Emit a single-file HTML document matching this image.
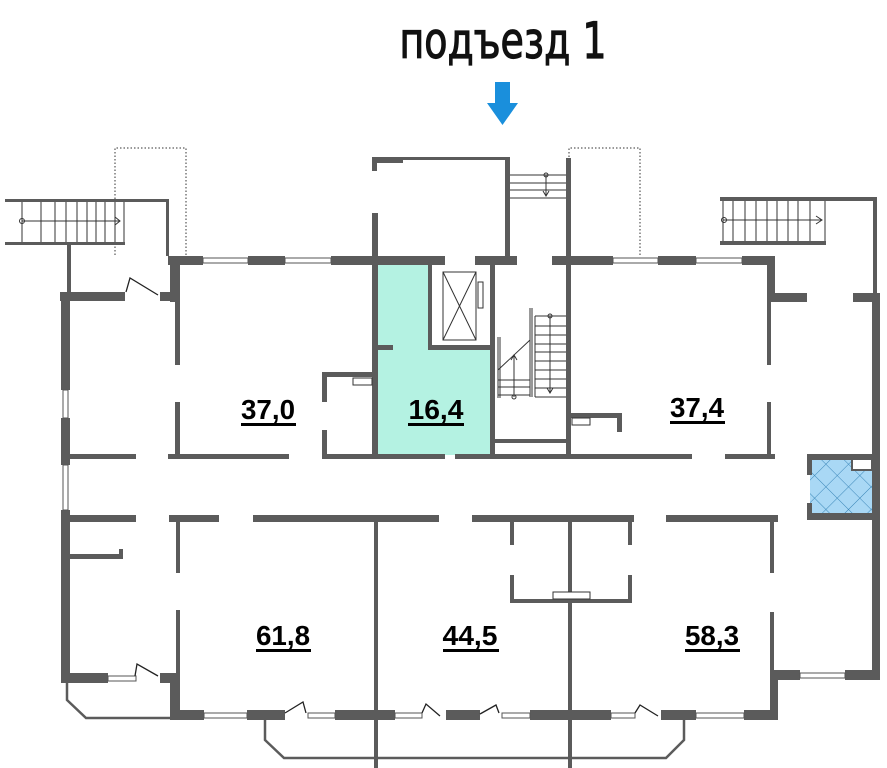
<!DOCTYPE html>
<html><head><meta charset="utf-8"><style>
html,body{margin:0;padding:0;background:#fff;}
svg{display:block;}
.w{fill:#5b5b5b;}
.t{font-family:"Liberation Sans",sans-serif;font-weight:bold;font-size:28px;fill:#000;text-anchor:middle;}
</style></head><body>
<svg width="887" height="768" viewBox="0 0 887 768" xmlns="http://www.w3.org/2000/svg">
<defs>
<pattern id="hx" width="16" height="16" patternUnits="userSpaceOnUse" patternTransform="rotate(45)">
<rect width="16" height="16" fill="#a9d8f5"/>
<path d="M0 0H16M0 0V16" stroke="#3a86b8" stroke-width="1"/>
</pattern>
</defs>
<!-- title -->
<text x="503" y="58" font-family="DejaVu Sans, sans-serif" font-size="50" font-weight="normal" text-anchor="middle" textLength="207" lengthAdjust="spacingAndGlyphs" fill="#111" stroke="#111" stroke-width="1.2">подъезд 1</text>
<!-- arrow -->
<polygon points="495,82 510,82 510,103 518,103 502.5,125 487,103 495,103" fill="#1a8fdc"/>

<!-- dotted rectangles -->
<path d="M115 255V148H186V255" fill="none" stroke="#333" stroke-width="1" stroke-dasharray="1.5,2"/>
<path d="M569 255V148H640V255" fill="none" stroke="#333" stroke-width="1" stroke-dasharray="1.5,2"/>

<!-- green room -->
<rect x="378" y="265" width="114" height="190" fill="#b4f2e2"/>
<rect x="430" y="265" width="62" height="83" fill="#fff"/>

<!-- blue tile -->
<rect x="810" y="458" width="65" height="58" fill="url(#hx)"/>
<rect x="852" y="459" width="20" height="11" fill="#fff" stroke="#5b5b5b" stroke-width="2"/>

<g class="w">
<rect x="168" y="256" width="35" height="9"/>
<rect x="248" y="256" width="37" height="9"/>
<rect x="331" y="256" width="114" height="9"/>
<rect x="475" y="256" width="42" height="9"/>
<rect x="552" y="256" width="61" height="9"/>
<rect x="658" y="256" width="38" height="9"/>
<rect x="742" y="256" width="33" height="9"/>
<rect x="767" y="256" width="8" height="46"/>
<rect x="767" y="293" width="40" height="9"/>
<rect x="853" y="293" width="24" height="9"/>
<rect x="873" y="197" width="4" height="100"/>
<rect x="872" y="293" width="8" height="387"/>
<rect x="767" y="302" width="4" height="63"/>
<rect x="767" y="402" width="4" height="55"/>
<rect x="720" y="197" width="157" height="4"/>
<rect x="720" y="241" width="106" height="4"/>
<rect x="5" y="199" width="164" height="3"/>
<rect x="166" y="199" width="3" height="57"/>
<rect x="5" y="242" width="120" height="3"/>
<rect x="67" y="245" width="4" height="50"/>
<rect x="60" y="292" width="65" height="9"/>
<rect x="160" y="292" width="15" height="9"/>
<rect x="170" y="256" width="10" height="46"/>
<rect x="175" y="300" width="5" height="65"/>
<rect x="175" y="402" width="5" height="56"/>
<rect x="61" y="292" width="9" height="98"/>
<rect x="61" y="418" width="9" height="47"/>
<rect x="61" y="510" width="9" height="173"/>
<rect x="70" y="454" width="66" height="5"/>
<rect x="168" y="454" width="121" height="5"/>
<rect x="322" y="454" width="123" height="5"/>
<rect x="455" y="454" width="237" height="5"/>
<rect x="725" y="454" width="50" height="5"/>
<rect x="372" y="157" width="31" height="6"/>
<rect x="372" y="157" width="138" height="3"/>
<rect x="372" y="157" width="5" height="14"/>
<rect x="372" y="213" width="6" height="245"/>
<rect x="505" y="157" width="5" height="100"/>
<rect x="566" y="158" width="5" height="300"/>
<rect x="428" y="265" width="4" height="85"/>
<rect x="428" y="345" width="65" height="5"/>
<rect x="490" y="265" width="5" height="190"/>
<rect x="378" y="345" width="15" height="5"/>
<rect x="495" y="439" width="72" height="4"/>
<rect x="322" y="372" width="56" height="5"/>
<rect x="322" y="372" width="5" height="30"/>
<rect x="322" y="430" width="5" height="28"/>
<rect x="571" y="413" width="51" height="5"/>
<rect x="617" y="413" width="5" height="19"/>
<rect x="807" y="454" width="70" height="6"/>
<rect x="807" y="454" width="5" height="21"/>
<rect x="807" y="503" width="5" height="17"/>
<rect x="807" y="513" width="70" height="7"/>
<rect x="68" y="515" width="68" height="7"/>
<rect x="169" y="515" width="50" height="7"/>
<rect x="253" y="515" width="186" height="7"/>
<rect x="472" y="515" width="162" height="7"/>
<rect x="666" y="515" width="112" height="7"/>
<rect x="176" y="517" width="4" height="56"/>
<rect x="176" y="610" width="4" height="110"/>
<rect x="374" y="517" width="4" height="251"/>
<rect x="568" y="517" width="4" height="251"/>
<rect x="510" y="517" width="4" height="28"/>
<rect x="510" y="575" width="4" height="28"/>
<rect x="628" y="517" width="4" height="28"/>
<rect x="628" y="575" width="4" height="28"/>
<rect x="510" y="599" width="122" height="4"/>
<rect x="770" y="517" width="4" height="56"/>
<rect x="770" y="612" width="4" height="60"/>
<rect x="70" y="554" width="52" height="5"/>
<rect x="119" y="549" width="4" height="10"/>
<rect x="61" y="673" width="47" height="10"/>
<rect x="160" y="673" width="18" height="10"/>
<rect x="170" y="673" width="9" height="47"/>
<rect x="170" y="710" width="34" height="10"/>
<rect x="247" y="710" width="38" height="10"/>
<rect x="335" y="710" width="60" height="10"/>
<rect x="446" y="710" width="34" height="10"/>
<rect x="530" y="710" width="81" height="10"/>
<rect x="661" y="710" width="35" height="10"/>
<rect x="744" y="710" width="34" height="10"/>
<rect x="770" y="670" width="8" height="50"/>
<rect x="770" y="670" width="30" height="10"/>
<rect x="845" y="670" width="35" height="10"/>
</g>

<g fill="#fff" stroke="#555" stroke-width="1">
<rect x="203" y="258" width="45" height="5"/><rect x="285" y="258" width="46" height="5"/>
<rect x="613" y="258" width="45" height="5"/><rect x="696" y="258" width="46" height="5"/>
<rect x="63" y="390" width="5" height="28"/><rect x="63" y="465" width="5" height="45"/>
<rect x="108" y="676" width="28" height="5"/>
<rect x="204" y="713" width="43" height="5"/><rect x="308" y="713" width="27" height="5"/>
<rect x="395" y="713" width="27" height="5"/><rect x="502" y="713" width="28" height="5"/>
<rect x="611" y="713" width="24" height="5"/><rect x="696" y="713" width="48" height="5"/>
<rect x="800" y="673" width="45" height="5"/>
</g>
<g fill="none" stroke="#222" stroke-width="1.3">
<path d="M158 295L130 278L126 292"/>
<path d="M158 676L137 664L135 676"/>
<path d="M285 713L303 702L306 713"/>
<path d="M422 713L426 704L440 716"/>
<path d="M480 714L496 705L499 713"/>
<path d="M635 713L640 705L658 716"/>
</g>
<g fill="none" stroke="#5b5b5b" stroke-width="2.5">
<path d="M67 683V700L86 718H170"/>
<path d="M265 720V740L284 758H666L684 740V720"/>
</g>
<g stroke="#333" stroke-width="1" fill="none">
<path d="M22 202V242M41 202V242M55 202V242M66 202V242M77 202V242M87 202V242M96 202V242M105 202V242M115 202V242M124 202V242"/>
<path d="M22 221H120M115 217L120 221L115 225"/>
<circle cx="22" cy="221" r="2.5"/>
<path d="M723 201V241M733 201V241M745 201V241M756 201V241M767 201V241M777 201V241M788 201V241M798 201V241M810 201V241M825 201V241"/>
<path d="M723 220H822M816 216L822 220L816 224"/>
<circle cx="724" cy="220" r="2.5"/>
<path d="M510 175H566M510 183H566M510 190H566M510 198H566"/>
<path d="M546 175V196M543 191L546 196L549 191"/><circle cx="546" cy="175" r="2"/>
<path d="M535 316V397M535 316H566M535 326H566M535 335H566M535 344H566M535 352H566M535 361H566M535 370H566M535 379H566M535 388H566M535 397H566"/>
<path d="M530 308V397M532 308V397"/>
<path d="M550 316V393M547 388L550 393L553 388"/><circle cx="550" cy="316" r="2"/>
<path d="M498 337V398M500 337V398M498 370L530 340M498 380H530M498 387H530M498 395H530"/>
<path d="M514 397V355M511 360L514 355L517 360"/><circle cx="514" cy="397" r="2"/>
<rect x="443" y="272" width="33" height="68"/>
<path d="M443 272L476 340M476 272L443 340"/>
<rect x="478" y="282" width="5" height="26"/>
<rect x="353" y="378" width="19" height="7" fill="#fff"/>
<rect x="572" y="418" width="18" height="7" fill="#fff"/>
<rect x="553" y="592" width="37" height="7" fill="#fff"/>
</g>

<g class="t">
<text x="268" y="419" textLength="54" lengthAdjust="spacingAndGlyphs">37,0</text>
<text x="436" y="419" textLength="55" lengthAdjust="spacingAndGlyphs">16,4</text>
<text x="697" y="417" textLength="54" lengthAdjust="spacingAndGlyphs">37,4</text>
<text x="283" y="645" textLength="54" lengthAdjust="spacingAndGlyphs">61,8</text>
<text x="470" y="645" textLength="55" lengthAdjust="spacingAndGlyphs">44,5</text>
<text x="712" y="645" textLength="54" lengthAdjust="spacingAndGlyphs">58,3</text>
</g>
<g fill="#000">
<rect x="241" y="423" width="55" height="3"/>
<rect x="408" y="423" width="56" height="3"/>
<rect x="670" y="421" width="55" height="3"/>
<rect x="256" y="649" width="55" height="3"/>
<rect x="443" y="649" width="56" height="3"/>
<rect x="685" y="649" width="55" height="3"/>
</g>
</svg>
</body></html>
